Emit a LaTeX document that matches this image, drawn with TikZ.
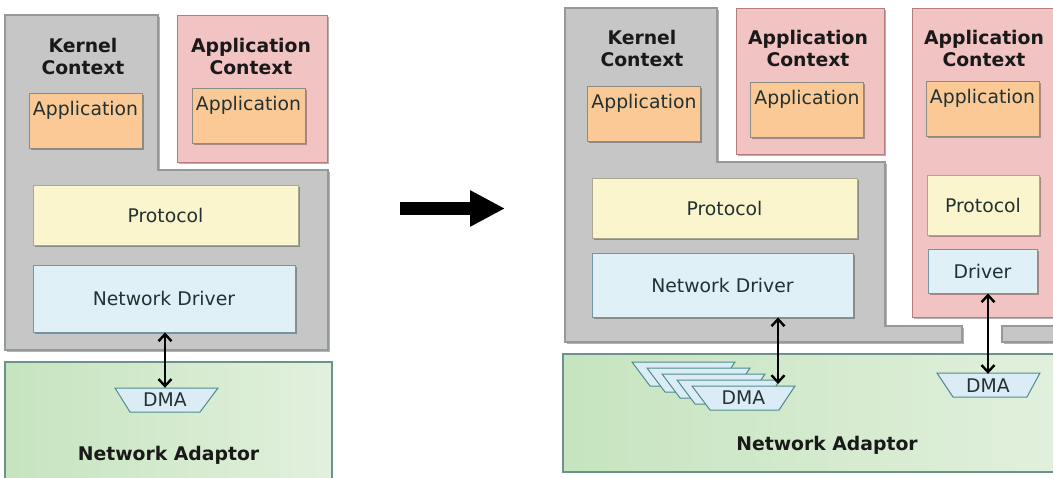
\documentclass[tikz,border=0pt]{standalone}
\usepackage{fontspec}
\setmainfont{DejaVu Sans}
\usetikzlibrary{arrows.meta,shadows}
\definecolor{grayfill}{HTML}{C6C6C6}
\definecolor{grayline}{HTML}{949A9B}
\definecolor{pinkfill}{HTML}{F2C3C3}
\definecolor{pinkline}{HTML}{B87C7C}
\definecolor{appfill}{HTML}{FBC995}
\definecolor{appline}{HTML}{8C8C80}
\definecolor{protfill}{HTML}{FBF5CD}
\definecolor{protline}{HTML}{A8A890}
\definecolor{drvfill}{HTML}{DFF0F6}
\definecolor{drvline}{HTML}{6F98A0}
\definecolor{greenL}{HTML}{C6E4BF}
\definecolor{greenR}{HTML}{E2F0DD}
\definecolor{greenline}{HTML}{6A948A}
\definecolor{dmafill}{HTML}{DCECF6}
\definecolor{dmaline}{HTML}{4E8C8C}
\definecolor{txt}{HTML}{223232}
\tikzset{
  every node/.style={font=\fontsize{18.8}{22}\selectfont, text=txt},
  shad/.style={drop shadow={shadow xshift=1.8pt, shadow yshift=-1.8pt, fill=black, opacity=0.3}},
  kernelarea/.style={fill=grayfill, draw=grayline, line width=1.2pt, shad},
  ctxbox/.style={fill=pinkfill, draw=pinkline, line width=1pt, shad, inner sep=0pt},
  title/.style={align=center, font=\fontsize{18.8}{22}\selectfont\bfseries, text=black!90},
  appbox/.style={fill=appfill, draw=appline, line width=0.9pt, shad, inner sep=0pt,
    minimum width=113pt, minimum height=55pt,
    label={[anchor=base, yshift=-23pt, inner sep=0pt]north:Application}},
  protbox/.style={fill=protfill, draw=protline, line width=0.9pt, shad, inner sep=0pt},
  drvbox/.style={fill=drvfill, draw=drvline, line width=0.9pt, shad, inner sep=0pt},
  adaptor/.style={left color=greenL, right color=greenR, draw=greenline, line width=1.2pt, inner sep=0pt},
  dmashape/.style={fill=dmafill, draw=dmaline, line width=1pt},
  dmatext/.style={minimum width=103pt, minimum height=24pt, inner sep=0pt},
  link/.style={{Straight Barb[length=7pt,width=13pt,line width=2.4pt]}-{Straight Barb[length=7pt,width=13pt,line width=2.4pt]}, line width=2.4pt, black},
  bigarrow/.style={-{Triangle[length=35pt,width=34pt]}, line width=13pt, black}
}
\begin{document}
\begin{tikzpicture}[x=1pt,y=-1pt]
\useasboundingbox[fill=white] (0,0) rectangle (1053,477);

% ================= LEFT =================
\fill[kernelarea] (5,15) -- (158,15) -- (158,170) -- (328,170) -- (328,350) -- (5,350) -- cycle;
\node[title] (kt1) at (83,56) {Kernel\\Context};
\node[appbox] (ak1) at (85.5,120.5) {};
\node[ctxbox, minimum width=150pt, minimum height=147pt] (ac1) at (252,88.5) {};
\node[title] (at1) at (251,56) {Application\\Context};
\node[appbox] (aa1) at (248.5,115.5) {};
\node[protbox, minimum width=265pt, minimum height=60pt] (pr1) at (165.5,215) {Protocol};
\node[drvbox, minimum width=262pt, minimum height=67pt] (nd1) at (164,298.5) {Network Driver};

\node[adaptor, minimum width=327pt, minimum height=124pt,
  label={[anchor=base, yshift=26pt, inner sep=0pt, font=\fontsize{18.8}{22}\selectfont\bfseries, text=black!90]south:Network Adaptor}]
  (na1) at (168.5,424) {};
\fill[dmashape] (115,388) -- (218,388) -- (200,412) -- (130,412) -- cycle;
\node[dmatext] (dma1) at (165,400) {DMA};
\draw[link] (nd1.south -| dma1.north) -- (dma1.north);

% ================= ARROW =================
\coordinate (bs) at (400,208.5);
\coordinate (be) at (505,208.5);
\draw[bigarrow] (bs) -- (be);

% ================= RIGHT =================
\fill[kernelarea] (565,8) -- (717,8) -- (717,162) -- (885,162) -- (885,326) -- (962,326) -- (962,342) -- (565,342) -- cycle;
\fill[kernelarea] (1002,326) rectangle (1070,342);
\node[title] (kt2) at (642,48.5) {Kernel\\Context};
\node[appbox] (ak2) at (644,113.5) {};
\node[ctxbox, minimum width=148pt, minimum height=146pt] (ac2) at (810,81) {};
\node[title] (at2) at (808,48.5) {Application\\Context};
\node[appbox] (aa2) at (807,109.5) {};
\node[ctxbox, minimum width=160pt, minimum height=309pt] (ac3) at (992,162.5) {};
\node[title] (at3) at (984,48.5) {Application\\Context};
\node[appbox] (aa3) at (982.5,108.5) {};
\node[protbox, minimum width=112pt, minimum height=60pt] (pr3) at (983,205) {Protocol};
\node[drvbox, minimum width=109pt, minimum height=44pt] (dr3) at (982.5,271) {Driver};
\node[protbox, minimum width=265pt, minimum height=60pt] (pr2) at (724.5,208) {Protocol};
\node[drvbox, minimum width=261pt, minimum height=64pt] (nd2) at (722.5,285) {Network Driver};

\node[adaptor, minimum width=510pt, minimum height=118pt,
  label={[anchor=base, yshift=22.5pt, xshift=9pt, inner sep=0pt, font=\fontsize{18.8}{22}\selectfont\bfseries, text=black!90]south:Network Adaptor}]
  (na2) at (818,413) {};
% stacked DMA engines
\foreach \i in {4,3,2,1,0} {
  \fill[dmashape, shift={(-15*\i,-6*\i)}] (692,386) -- (795,386) -- (779,410) -- (710,410) -- cycle;
}
\node[dmatext] (dma2) at (743.5,398) {DMA};
\coordinate (p2) at (778,384);
\draw[link] (nd2.south -| p2) -- (p2);

\fill[dmashape] (937,373) -- (1040,373) -- (1027,397) -- (953,397) -- cycle;
\node[dmatext] (dma3) at (988,386) {DMA};
\draw[link] (dr3.south -| dma3.north) -- (dma3.north);
\end{tikzpicture}
\end{document}
